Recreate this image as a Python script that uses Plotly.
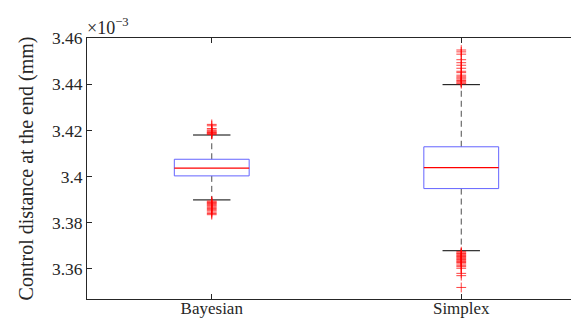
import plotly.graph_objects as go

# values in units of 1e-3 mm
categories = ["Bayesian", "Simplex"]
cat_pos = [1, 2]
q1 = [3.4003, 3.3948]
median = [3.4037, 3.4039]
q3 = [3.4075, 3.4129]
lower_whisker = [3.3899, 3.3679]
upper_whisker = [3.4180, 3.4398]

bayes_outliers = [3.4226, 3.4220, 3.4208, 3.4202, 3.4198, 3.4194, 3.4191, 3.4188, 3.4185, 3.4183,
                  3.3894, 3.3890, 3.3887, 3.3884, 3.3880, 3.3876, 3.3872, 3.3867, 3.3862, 3.3857,
                  3.3852, 3.3846, 3.3840, 3.3835]
simplex_outliers = [3.4548, 3.4540, 3.4530, 3.4506, 3.4493, 3.4482, 3.4469, 3.4456, 3.4450, 3.4439,
                    3.4432, 3.4427, 3.4422, 3.4416, 3.4411, 3.4406, 3.4402,
                    3.3675, 3.3670, 3.3667, 3.3662, 3.3658, 3.3654, 3.3650, 3.3645, 3.3641,
                    3.3636, 3.3632, 3.3628, 3.3622, 3.3616, 3.3610, 3.3603, 3.3581, 3.3571, 3.3520]

ytick_vals = [3.36, 3.38, 3.40, 3.42, 3.44, 3.46]
ytick_text = ["3.36", "3.38", "3.4", "3.42", "3.44", "3.46"]

box_half = 0.15
cap_half = 0.075
font = "Liberation Serif"

fig = go.Figure()
for i, c in enumerate(cat_pos):
    fig.add_trace(go.Scatter(x=[c, c, None, c, c],
                             y=[q3[i], upper_whisker[i], None, q1[i], lower_whisker[i]],
                             mode="lines", line=dict(color="#4d4d4d", width=1, dash="6px,4px"),
                             hoverinfo="skip", showlegend=False))
    fig.add_trace(go.Scatter(x=[c - cap_half, c + cap_half, None, c - cap_half, c + cap_half],
                             y=[upper_whisker[i], upper_whisker[i], None, lower_whisker[i], lower_whisker[i]],
                             mode="lines", line=dict(color="black", width=1),
                             hoverinfo="skip", showlegend=False))
    fig.add_trace(go.Scatter(x=[c - box_half, c + box_half, c + box_half, c - box_half, c - box_half],
                             y=[q1[i], q1[i], q3[i], q3[i], q1[i]],
                             mode="lines", line=dict(color="rgb(100,100,255)", width=1),
                             hoverinfo="skip", showlegend=False))

for i, c in enumerate(cat_pos):
    fig.add_trace(go.Scatter(x=[c - box_half, c + box_half], y=[median[i], median[i]],
                             mode="lines", line=dict(color="#ff0000", width=1.3),
                             hoverinfo="skip", showlegend=False))

for c, vals in zip(cat_pos, [bayes_outliers, simplex_outliers]):
    fig.add_trace(go.Scatter(x=[c] * len(vals), y=vals, mode="markers",
                             marker=dict(symbol="cross-thin", size=7,
                                         line=dict(color="rgba(255,0,0,0.75)", width=1)),
                             hoverinfo="skip", showlegend=False))

fig.update_layout(
    width=579, height=320,
    margin=dict(l=79, r=1, t=30, b=29),
    plot_bgcolor="white", paper_bgcolor="white",
    font=dict(family=font, size=17, color="#262626"),
    xaxis=dict(range=[0.5, 2.5], tickvals=cat_pos, ticktext=categories,
               ticks="inside", ticklen=5, tickcolor="#262626",
               showline=True, linecolor="#262626", linewidth=1, mirror="ticks",
               showgrid=False, zeroline=False, tickfont=dict(size=17, family=font),
               ticklabelstandoff=-6),
    yaxis=dict(range=[3.347, 3.46], tickvals=ytick_vals, ticktext=ytick_text,
               ticks="inside", ticklen=5, tickcolor="#262626",
               showline=True, linecolor="#262626", linewidth=1, mirror="ticks",
               showgrid=False, zeroline=False, tickfont=dict(size=17.5, family=font),
               title=dict(text="Control distance at the end (mm)",
                          font=dict(size=20, family=font), standoff=12)),
    annotations=[dict(text="×10<sup>−3</sup>", xref="paper", yref="paper", x=0, y=1,
                      xanchor="left", yanchor="bottom", showarrow=False,
                      font=dict(size=18, family=font, color="#262626"), yshift=-2, xshift=-2)],
)

fig.write_html("out.html")
